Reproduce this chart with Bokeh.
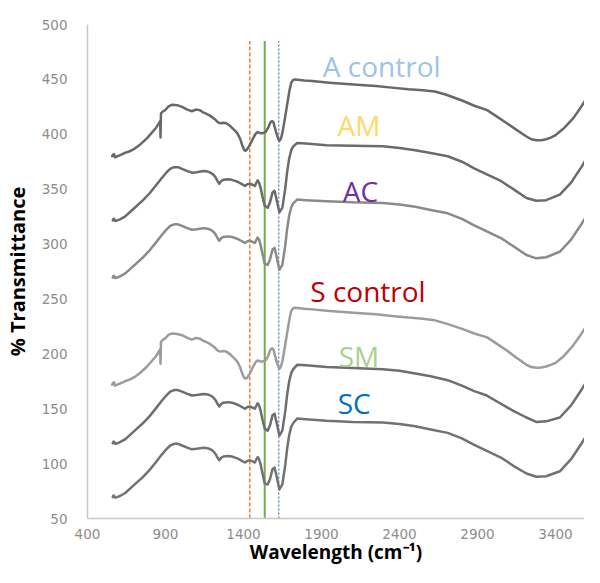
from bokeh.plotting import figure
from bokeh.models import FixedTicker, ColumnDataSource
from bokeh.core.properties import value
from bokeh.embed import file_html
from bokeh.resources import INLINE

# ---- data (wavenumber in cm-1, % transmittance) ----
WN_CTRL = [558, 564, 570, 576, 583, 610, 640, 670, 703, 740,
           779, 810, 840, 866, 868, 871, 885, 898, 920, 943,
           975, 1006, 1040, 1069, 1095, 1119, 1140, 1157, 1185, 1214,
           1235, 1252, 1270, 1290, 1315, 1340, 1360, 1378, 1392, 1403,
           1412, 1422, 1440, 1460, 1478, 1491, 1508, 1523, 1542, 1558,
           1573, 1583, 1592, 1603, 1611, 1622, 1630, 1640, 1649, 1665,
           1681, 1695, 1706, 1718, 1731, 1760, 1790, 1840, 1950, 2040,
           2150, 2249, 2350, 2457, 2550, 2627, 2700, 2797, 2880, 2962,
           3020, 3088, 3150, 3214, 3245, 3277, 3310, 3340, 3370, 3403,
           3450, 3510, 3560, 3600, 3637]
A_CONTROL = [380, 381.5, 382, 379, 379.5, 381, 383, 384.5, 387, 391,
             396, 401, 406, 412, 397, 419, 421, 422, 425.5, 427,
             426.5, 425, 422.5, 421, 422.5, 422, 420, 419, 417, 414,
             411, 410, 410.5, 410, 407.5, 404, 401, 396, 390, 386,
             385, 386, 390, 396, 400.5, 402, 401, 401, 402, 406,
             411, 412, 411, 405, 401, 396, 394, 396, 401, 414,
             428, 440, 447, 449.5, 450, 449.5, 449, 448.5, 447, 446,
             445, 444, 442.5, 441, 440, 439, 436, 431, 426, 422,
             416.5, 410, 404, 398, 395.5, 394.5, 394.5, 395.5, 397, 399.5,
             405, 414, 424, 433, 441]
S_CONTROL = [172, 173.5, 174, 171, 171.5, 173, 175, 176.5, 179, 183,
             188, 193, 198, 204, 191, 211, 213, 214, 217.5, 218.5,
             218, 217, 214.5, 213, 214.5, 214, 212, 211, 209, 206,
             203, 202, 202.5, 202, 199.5, 196, 193, 188, 182, 178.5,
             177.5, 178, 182, 188, 192.5, 194, 193, 193, 194, 198,
             204, 205, 204, 198, 193.5, 189, 186.5, 188.5, 193, 206,
             220, 232, 239, 241.5, 242, 241.5, 241, 240.5, 239, 238,
             237, 236, 234.5, 233, 232, 230.5, 227.5, 223, 218.5, 215,
             209.5, 203, 196.5, 190, 188, 187.4, 187.5, 188.5, 190, 192,
             197.5, 207, 217, 226, 234]

WN_TREAT = [562, 567, 572, 578, 590, 608, 640, 671, 710, 753,
            800, 842, 875, 905, 930, 955, 980, 1006, 1040, 1069,
            1100, 1144, 1170, 1189, 1205, 1220, 1233, 1245, 1258, 1271,
            1302, 1325, 1346, 1365, 1384, 1409, 1425, 1441, 1458, 1473,
            1483, 1491, 1500, 1510, 1522, 1536, 1555, 1570, 1586, 1599,
            1613, 1630, 1649, 1668, 1680, 1693, 1706, 1719, 1744, 1800,
            1933, 2100, 2293, 2400, 2501, 2600, 2709, 2800, 2879, 2960,
            3050, 3130, 3214, 3277, 3340, 3428, 3500, 3570, 3637]
AM = [321.5, 323, 322.5, 321, 321.5, 322.5, 325, 329, 334, 339.5,
      346.5, 354, 360, 365, 368.5, 370, 370, 368.5, 366.5, 365,
      365.5, 366.5, 366, 365, 363.5, 361, 357.5, 355, 357.5, 358.5,
      359, 358.5, 357.5, 356.5, 355, 353, 354.5, 355, 354, 353,
      356, 358, 356, 351, 343, 335, 333, 338, 347, 348.5,
      340, 329, 333, 351, 366, 378, 385.5, 389, 392, 391.5,
      390, 389.5, 389, 387.5, 385.5, 383, 380, 375, 369, 363.5,
      357.5, 350, 342, 339.5, 340, 345, 356, 371, 387]
AC = [269.5, 271, 270.5, 269, 269.5, 270.5, 273, 277, 282, 287.5,
      294.5, 302, 308, 313, 316.5, 318, 318, 316.5, 314.5, 313,
      313.5, 314.5, 314, 313, 311.5, 309, 305.5, 303, 305.5, 306.5,
      307, 306.5, 305.5, 304.5, 303, 301, 302.5, 303, 302, 301,
      304, 306, 304, 299, 291, 282, 281, 286, 295, 296.5,
      288, 276.5, 281, 299, 314, 326, 333.5, 337, 340.5, 340,
      339, 338, 337.5, 336, 334, 331, 328, 323, 317, 311.5,
      305.5, 298, 290, 287, 288, 293, 304, 319, 335]
SM = [118.5, 120, 119.5, 118, 118.5, 119.5, 122, 126, 131, 136.5,
      143.5, 151, 157, 162, 165.5, 167, 167, 165.5, 163.5, 162,
      162.5, 163.5, 163, 162, 160.5, 158, 154.5, 152, 154.5, 155.5,
      156, 155.5, 154.5, 153.5, 152, 150, 151.5, 152, 151, 150,
      153, 155, 153, 148, 140, 132, 130, 135, 144, 145.5,
      137, 125.5, 130, 148, 163, 175, 182.5, 186, 190, 189.5,
      188, 187, 186, 184.5, 182, 179.5, 176, 171, 166, 162,
      154.5, 148, 142, 138, 138.5, 142, 153, 168, 184]
SC = [69.5, 71, 70.5, 69, 69.5, 70.5, 73, 77, 82, 87.5,
      94.5, 102, 108, 113, 116.5, 118, 118, 116.5, 114.5, 113,
      113.5, 114.5, 114, 113, 111.5, 109, 105.5, 103, 105.5, 106.5,
      107, 106.5, 105.5, 104.5, 103, 101, 102.5, 103, 102, 101,
      104, 106, 104, 99, 91, 82, 81, 86, 95, 96.5,
      88, 76.5, 81, 99, 114, 126, 133.5, 137, 141, 140.5,
      139, 138, 137.5, 136, 134, 131, 128, 123, 117, 111.5,
      105.5, 98, 91, 88, 88.5, 93, 104, 119, 135]

SERIES_NAMES = ["A control", "AM", "AC", "S control", "SM", "SC"]
LABEL_X = [2286, 2140, 2150, 2198, 2140, 2110]
LABEL_Y = [462, 408, 348.5, 257.4, 198, 155.6]
LABEL_COLORS = ["#9DC3E6", "#FFD966", "#7030A0", "#C00000", "#A9D18E", "#0070C0"]

VLINE_X = [1440, 1536, 1626]
VLINE_TOP = 485

X_TICKS = [400, 900, 1400, 1900, 2400, 2900, 3400]
Y_TICKS = [50, 100, 150, 200, 250, 300, 350, 400, 450, 500]
X_TITLE = "Wavelength (cm\u207b\u00b9)"
Y_TITLE = "% Transmittance"

# ---- figure ----
p = figure(width=584, height=567, x_range=(400, 3586), y_range=(50, 500),
           output_backend="svg", toolbar_location=None,
           min_border_left=79, min_border_right=0, min_border_top=24, min_border_bottom=46)
p.outline_line_color = None
p.xgrid.grid_line_color = None
p.ygrid.grid_line_color = None
p.background_fill_color = "white"

for ax in (p.xaxis[0], p.yaxis[0]):
    ax.axis_line_color = "#c8c8c8"
    ax.axis_line_width = 1.5
    ax.major_tick_line_color = None
    ax.minor_tick_line_color = None
    ax.major_label_text_color = "#8c8c8c"
    ax.major_label_text_font = "DejaVu Sans"
    ax.major_label_text_font_size = "13.5px"
    ax.axis_label_text_font = "Open Sans"
    ax.axis_label_text_font_style = "bold"
    ax.axis_label_text_color = "black"
    ax.axis_label_text_font_size = "20px"
p.xaxis.axis_label_text_font_size = "19px"

p.xaxis.ticker = FixedTicker(ticks=X_TICKS)
p.yaxis.ticker = FixedTicker(ticks=Y_TICKS)
p.xaxis.axis_label = X_TITLE
p.yaxis.axis_label = Y_TITLE
p.xaxis.major_label_standoff = 4
p.yaxis.major_label_standoff = 14
p.xaxis.axis_label_standoff = -3
p.yaxis.axis_label_standoff = 8

# vertical reference lines
p.segment(x0=[VLINE_X[0]], y0=[50], x1=[VLINE_X[0]], y1=[VLINE_TOP],
          line_color="#ED7D31", line_width=1.5, line_dash="4 2")
p.segment(x0=[VLINE_X[1]], y0=[50], x1=[VLINE_X[1]], y1=[VLINE_TOP],
          line_color="#70AD47", line_width=2)
p.segment(x0=[VLINE_X[2]], y0=[50], x1=[VLINE_X[2]], y1=[VLINE_TOP],
          line_color="#4472C4", line_width=1.2, line_dash="2 2")

# spectra
curves = [(WN_CTRL, A_CONTROL, "#686868"),
          (WN_TREAT, AM, "#6b6b6b"),
          (WN_TREAT, AC, "#8a8a8a"),
          (WN_CTRL, S_CONTROL, "#9c9c9c"),
          (WN_TREAT, SM, "#6e6e6e"),
          (WN_TREAT, SC, "#727272")]
for xs, ys, col in curves:
    p.line(xs, ys, line_color=col, line_width=2.5, line_join="round", line_cap="round")

# labels
src = ColumnDataSource(dict(x=LABEL_X, y=LABEL_Y, text=SERIES_NAMES, color=LABEL_COLORS))
p.text(x="x", y="y", text="text", source=src, text_color="color",
       text_font=value("Open Sans"), text_font_size="28px",
       text_align="center", text_baseline="middle")

open("out.html", "w").write(file_html(p, INLINE))
